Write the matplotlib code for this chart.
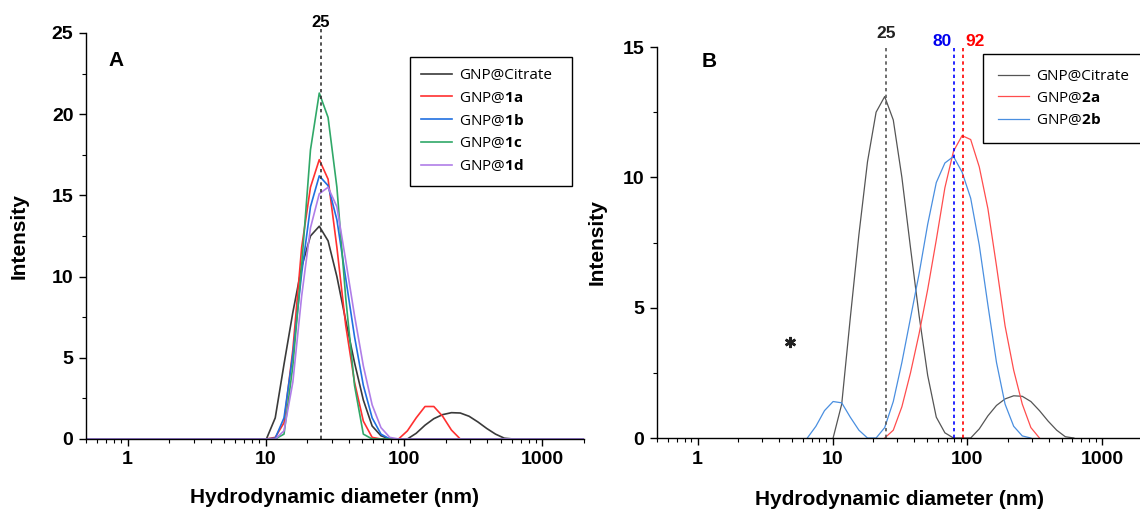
import numpy as np
import matplotlib
matplotlib.use("Agg")
import matplotlib.pyplot as plt
from matplotlib.ticker import MultipleLocator, LogLocator, NullFormatter

plt.rcParams["font.family"] = ["Liberation Sans", "DejaVu Sans"]
plt.rcParams["font.weight"] = "bold"
plt.rcParams["mathtext.fontset"] = "custom"
plt.rcParams["mathtext.rm"] = "Open Sans"
plt.rcParams["mathtext.bf"] = "Open Sans:bold"

# ================= DLS data (intensity %, size bins in nm) =================
SIZE_NM = [6.503, 7.531, 8.721, 10.1, 11.7, 13.54, 15.69, 18.17, 21.04, 24.36,
           28.21, 32.67, 37.84, 43.82, 50.75, 58.77, 68.06, 78.82, 91.28, 105.7,
           122.4, 141.8, 164.2, 190.1, 220.2, 255.0, 295.3, 342.0, 396.1, 458.7,
           531.2, 615.1]
DLS_RANGE = [0.4, 10000]

CITRATE = [0, 0, 0, 0, 1.3, 4.6, 7.8, 10.6, 12.5, 13.1,
           12.2, 10.0, 7.3, 4.7, 2.4, 0.8, 0.2, 0, 0, 0,
           0.35, 0.85, 1.25, 1.5, 1.62, 1.6, 1.4, 1.05, 0.65, 0.3,
           0.05, 0]
GNP_1A = [0, 0, 0, 0, 0.1, 1.0, 5.5, 11.8, 15.5, 17.2,
          16.0, 11.8, 7.0, 3.5, 1.1, 0.1, 0, 0, 0, 0.5,
          1.3, 2.0, 2.0, 1.4, 0.55, 0, 0, 0, 0, 0,
          0, 0]
GNP_1B = [0, 0, 0, 0, 0.05, 1.3, 5.2, 10.2, 14.3, 16.2,
          15.6, 13.5, 9.9, 6.3, 3.3, 1.3, 0.3, 0, 0, 0,
          0, 0, 0, 0, 0, 0, 0, 0, 0, 0,
          0, 0]
GNP_1C = [0, 0, 0, 0, 0, 0.3, 4.5, 10.7, 17.8, 21.3,
          19.8, 15.5, 8.7, 3.3, 0.3, 0, 0, 0, 0, 0,
          0, 0, 0, 0, 0, 0, 0, 0, 0, 0,
          0, 0]
GNP_1D = [0, 0, 0, 0, 0, 0.5, 3.5, 8.8, 13.0, 15.1,
          15.5, 14.3, 11.0, 7.6, 4.5, 2.1, 0.7, 0.1, 0, 0,
          0, 0, 0, 0, 0, 0, 0, 0, 0, 0,
          0, 0]
GNP_2A = [0, 0, 0, 0, 0, 0, 0, 0, 0, 0,
          0.3, 1.2, 2.5, 4.0, 5.7, 7.6, 9.6, 11.0, 11.6, 11.45,
          10.4, 8.8, 6.6, 4.3, 2.6, 1.3, 0.4, 0, 0, 0,
          0, 0]
GNP_2B = [0, 0.45, 1.05, 1.4, 1.35, 0.8, 0.3, 0, 0, 0.4,
          1.4, 2.9, 4.6, 6.3, 8.2, 9.8, 10.55, 10.8, 10.2, 9.2,
          7.4, 5.1, 2.9, 1.3, 0.45, 0.08, 0, 0, 0, 0,
          0, 0]

LABELS_A = ["GNP@Citrate", r"GNP@$\mathbf{1a}$", r"GNP@$\mathbf{1b}$",
            r"GNP@$\mathbf{1c}$", r"GNP@$\mathbf{1d}$"]
LABELS_B = ["GNP@Citrate", r"GNP@$\mathbf{2a}$", r"GNP@$\mathbf{2b}$"]

PEAKS_A = [25]
PEAKS_B = [25, 80, 92]
STAR_X = [4.8]
STAR_Y = [3.7]

XTICKS = [1, 10, 100, 1000]

COLORS_A = ["#3a3a3a", "#ff3030", "#2070e0", "#30a868", "#b07ee8"]
COLORS_B = ["#555555", "#ff4d4d", "#4a8fe0"]
PEAK_COLORS_B = ["#555555", "#0000ff", "#ff0000"]
LABEL_COLORS_B = ["#222222", "#0000ee", "#ff0000"]


def padded(values):
    x = [DLS_RANGE[0]] + SIZE_NM + [DLS_RANGE[1]]
    y = [0] + list(values) + [0]
    return x, y


def trimmed(values):
    v = np.array(values)
    nz = np.nonzero(v)[0]
    lo = max(nz[0] - 1, 0)
    hi = min(nz[-1] + 1, len(v) - 1)
    return SIZE_NM[lo:hi + 1], list(v[lo:hi + 1])


def style_axes(ax, ymax):
    ax.set_xscale("log")
    ax.set_xlim(0.5, 2000)
    ax.set_ylim(0, ymax)
    ax.set_xticks(XTICKS, labels=[str(t) for t in XTICKS])
    ax.xaxis.set_minor_locator(LogLocator(base=10, subs=np.arange(2, 10)))
    ax.xaxis.set_minor_formatter(NullFormatter())
    ax.yaxis.set_major_locator(MultipleLocator(5))
    ax.yaxis.set_minor_locator(MultipleLocator(2.5))
    for s in ["top", "right"]:
        ax.spines[s].set_visible(False)
    for s in ["left", "bottom"]:
        ax.spines[s].set_linewidth(1.0)
        ax.spines[s].set_color("black")
    ax.tick_params(which="major", length=5, width=1, labelsize=14, pad=4)
    ax.tick_params(which="minor", length=3, width=0.8)
    ax.set_xlabel("Hydrodynamic diameter (nm)", fontsize=15, fontweight="bold")
    ax.set_ylabel("Intensity", fontsize=15, fontweight="bold")


def add_legend(ax, anchor, borderpad, spacing):
    leg = ax.legend(loc="upper left", bbox_to_anchor=anchor,
                    bbox_transform=fig.transFigure, mode="expand", borderaxespad=0,
                    prop=dict(family="Open Sans", size=11, weight="normal"),
                    handlelength=2.0, handletextpad=0.45, borderpad=borderpad,
                    labelspacing=spacing, fancybox=False, framealpha=1,
                    edgecolor="black")
    leg.get_frame().set_linewidth(1.0)
    return leg


fig = plt.figure(figsize=(11.4, 5.12), dpi=100)

# ================= Panel A =================
axA = fig.add_axes([0.0754, 0.1426, 0.4368, 0.793])
style_axes(axA, 25)
for vals, lab, col in zip([CITRATE, GNP_1A, GNP_1B, GNP_1C, GNP_1D], LABELS_A, COLORS_A):
    x, y = padded(vals)
    axA.plot(x, y, color=col, lw=1.2, label=lab)
for p in PEAKS_A:
    axA.plot([p, p], [0, 25.3], color="#333333", lw=1.2, ls=(0, (2, 2)), clip_on=False)
    axA.text(p, 25.65, str(p), ha="center", va="center", fontsize=12, fontweight="bold")
axA.text(0.06, 0.931, "A", transform=axA.transAxes, ha="center", va="center",
         fontsize=15, fontweight="bold")
axA.yaxis.set_label_coords(-0.116, 0.5)
axA.xaxis.set_label_coords(0.5, -0.12)
add_legend(axA, (0.3596, 0.5, 0.142, 0.3887), 0.75, 0.47)

# ================= Panel B =================
axB = fig.add_axes([0.5763, 0.1445, 0.4263, 0.7637])
style_axes(axB, 15)
for vals, lab, col in zip([CITRATE, GNP_2A, GNP_2B], LABELS_B, COLORS_B):
    x, y = trimmed(vals)
    axB.plot(x, y, color=col, lw=0.9, label=lab)
for p, lc in zip(PEAKS_B, PEAK_COLORS_B):
    axB.plot([p, p], [0, 15], color=lc, lw=1.2, ls=(0, (2, 2)), clip_on=False)
for p, tc, ha, yy in zip(PEAKS_B, LABEL_COLORS_B, ["center", "right", "left"], [15.53, 15.23, 15.23]):
    dx = {"center": 1.0, "right": 0.95, "left": 1.05}[ha]
    axB.text(p * dx, yy, str(p), color=tc, ha=ha, va="center", fontsize=12.5, fontweight="bold")
axB.plot(STAR_X, STAR_Y, ls="none", marker=(6, 2, 0), ms=8, mew=1.8, color="#222222")
axB.text(0.107, 0.964, "B", transform=axB.transAxes, ha="center", va="center",
         fontsize=15, fontweight="bold")
axB.yaxis.set_label_coords(-0.103, 0.5)
axB.xaxis.set_label_coords(0.5, -0.133)
add_legend(axB, (0.8623, 0.5, 0.16, 0.3945), 1.0, 0.42)

fig.savefig("out.png", dpi=100)
